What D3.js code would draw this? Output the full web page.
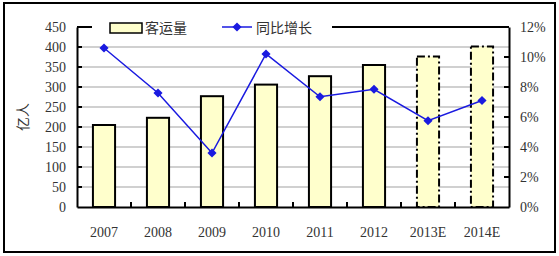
<!DOCTYPE html>
<html>
<head>
<meta charset="utf-8">
<script src="https://cdn.jsdelivr.net/npm/d3@7"></script>
<style>
  body { margin: 0; background: #fff; }
  text { font-family: "Liberation Serif", "DejaVu Serif", serif; fill: #333; }
  .cjk { font-family: "Noto Sans CJK SC", sans-serif; }
</style>
</head>
<body>
<div id="chart"></div>
<script>
// data
var years = ["2007", "2008", "2009", "2010", "2011", "2012", "2013E", "2014E"];
var passengers = [205, 223, 277, 306, 327, 355, 376, 401];   // 亿人
var growth = [10.6, 7.6, 3.6, 10.2, 7.35, 7.85, 5.75, 7.1];    // %
var estimated = [false, false, false, false, false, false, true, true];
var leftTicks = [0, 50, 100, 150, 200, 250, 300, 350, 400, 450];
var rightTicks = [0, 2, 4, 6, 8, 10, 12];

var W = 559, H = 256;
var margin = {top: 27, right: 50, bottom: 49, left: 77},
    width = W - margin.left - margin.right,
    height = H - margin.top - margin.bottom;

var svg = d3.select("#chart").append("svg")
    .attr("width", W)
    .attr("height", H);

// outer frame
svg.append("rect")
  .attr("x", 4).attr("y", 3)
  .attr("width", 551).attr("height", 249)
  .attr("fill", "none")
  .attr("stroke", "#000")
  .attr("stroke-width", 2);

var g = svg.append("g")
    .attr("transform", "translate(" + margin.left + "," + margin.top + ")");

var x = d3.scaleBand().domain(years).range([0, width]);
var y = d3.scaleLinear().domain([0, 450]).range([height, 0]);
var y2 = d3.scaleLinear().domain([0, 12]).range([height, 0]);

// gridlines
g.selectAll(".grid")
  .data(leftTicks.filter(function(d) { return d > 0 && d < 450; }))
  .enter().append("line")
    .attr("x1", 0).attr("x2", width)
    .attr("y1", function(d) { return y(d); })
    .attr("y2", function(d) { return y(d); })
    .attr("stroke", "#c0c0c0")
    .attr("stroke-width", 1.5);

// top border
g.append("line")
  .attr("x1", 0).attr("x2", width)
  .attr("y1", 0).attr("y2", 0)
  .attr("stroke", "#000").attr("stroke-width", 2);

// bars
var bw = x.bandwidth() * 0.41;
g.selectAll(".bar")
  .data(years)
  .enter().append("rect")
    .attr("class", "bar")
    .attr("x", function(d) { return x(d) + (x.bandwidth() - bw) / 2; })
    .attr("y", function(d, i) { return y(passengers[i]); })
    .attr("width", bw)
    .attr("height", function(d, i) { return height - y(passengers[i]); })
    .attr("fill", "#ffffcc")
    .attr("stroke", "#000")
    .attr("stroke-width", 2)
    .attr("stroke-dasharray", function(d, i) { return estimated[i] ? "8,3,2,3" : null; });

// left axis
var leftAxis = g.append("g")
  .call(d3.axisLeft(y).tickValues(leftTicks).tickSize(0).tickPadding(11));
leftAxis.select(".domain").attr("stroke", "#000").attr("stroke-width", 2);
leftAxis.selectAll("text").style("font-size", "14px");
g.selectAll(".lt")
  .data(leftTicks.filter(function(d) { return d > 0 && d < 450; }))
  .enter().append("line")
    .attr("x1", 0).attr("x2", 5)
    .attr("y1", function(d) { return y(d); })
    .attr("y2", function(d) { return y(d); })
    .attr("stroke", "#000").attr("stroke-width", 2);

// right axis
var rightAxis = g.append("g")
  .attr("transform", "translate(" + width + ",0)")
  .call(d3.axisRight(y2).tickValues(rightTicks).tickSize(0).tickPadding(11)
    .tickFormat(function(d) { return d + "%"; }));
rightAxis.select(".domain").attr("stroke", "#000").attr("stroke-width", 2);
rightAxis.selectAll("text").style("font-size", "14px");
g.selectAll(".rt")
  .data(rightTicks.filter(function(d) { return d > 0 && d < 12; }))
  .enter().append("line")
    .attr("x1", width - 5).attr("x2", width)
    .attr("y1", function(d) { return y2(d); })
    .attr("y2", function(d) { return y2(d); })
    .attr("stroke", "#000").attr("stroke-width", 2);

// bottom axis
var bottomAxis = g.append("g")
  .attr("transform", "translate(0," + height + ")")
  .call(d3.axisBottom(x).tickSize(0).tickPadding(20));
bottomAxis.select(".domain").attr("stroke", "#000").attr("stroke-width", 2);
bottomAxis.selectAll("text").style("font-size", "14px");
g.selectAll(".xt")
  .data(years.slice(1))
  .enter().append("line")
    .attr("x1", function(d) { return x(d); })
    .attr("x2", function(d) { return x(d); })
    .attr("y1", height - 5).attr("y2", height)
    .attr("stroke", "#000").attr("stroke-width", 2);

// growth line
var blue = "#1a1ae0";
var diamond = d3.symbol().type(d3.symbolSquare).size(42);
var line = d3.line()
  .x(function(d, i) { return x(years[i]) + x.bandwidth() / 2; })
  .y(function(d) { return y2(d); });
g.append("path")
  .datum(growth)
  .attr("d", line)
  .attr("fill", "none")
  .attr("stroke", blue)
  .attr("stroke-width", 1.5);
g.selectAll(".pt")
  .data(growth)
  .enter().append("path")
    .attr("d", diamond)
    .attr("transform", function(d, i) {
      return "translate(" + (x(years[i]) + x.bandwidth() / 2) + "," + y2(d) + ") rotate(45)";
    })
    .attr("fill", blue);

// y title
svg.append("text")
  .attr("class", "cjk")
  .attr("transform", "translate(28,117) rotate(-90)")
  .attr("text-anchor", "middle")
  .style("font-size", "14px")
  .text("亿人");

// legend
var lg = svg.append("g");
lg.append("rect")
  .attr("x", 92).attr("y", 16)
  .attr("width", 240).attr("height", 22)
  .attr("fill", "#fff");
lg.append("rect")
  .attr("x", 110).attr("y", 23)
  .attr("width", 32).attr("height", 10)
  .attr("fill", "#ffffcc")
  .attr("stroke", "#000").attr("stroke-width", 1.5);
lg.append("text")
  .attr("class", "cjk")
  .attr("x", 145).attr("y", 33)
  .style("font-size", "14px")
  .text("客运量");
lg.append("line")
  .attr("x1", 222).attr("x2", 252)
  .attr("y1", 27).attr("y2", 27)
  .attr("stroke", blue).attr("stroke-width", 1.5);
lg.append("path")
  .attr("d", diamond)
  .attr("transform", "translate(237,27) rotate(45)")
  .attr("fill", blue);
lg.append("text")
  .attr("class", "cjk")
  .attr("x", 256).attr("y", 33)
  .style("font-size", "14px")
  .text("同比增长");
</script>
</body>
</html>
